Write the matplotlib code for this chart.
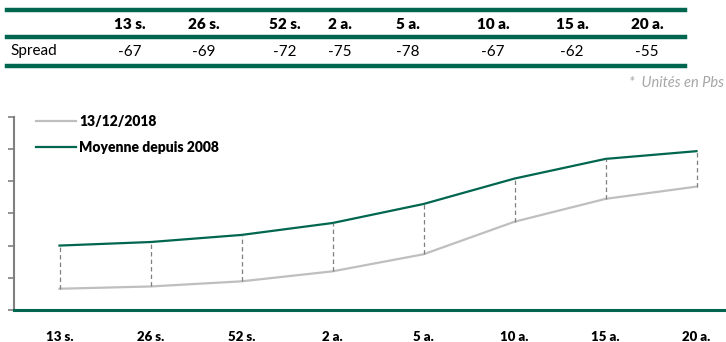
import matplotlib.pyplot as plt
from matplotlib.lines import Line2D

plt.rcParams['font.family'] = ['Lato', 'DejaVu Sans']

maturites = ['13 s.', '26 s.', '52 s.', '2 a.', '5 a.', '10 a.', '15 a.', '20 a.']
spread = [-67, -69, -72, -75, -78, -67, -62, -55]
moyenne = [100, 105.5, 116.5, 135, 164.5, 204, 234.5, 246.5]
courant = [m + s for m, s in zip(moyenne, spread)]

vert = '#00664F'
gris = '#BFBFBF'

W, H = 726, 342
fig = plt.figure(figsize=(W / 100, H / 100), dpi=100)

def fx(px):
    return px / W

def fy(py):
    return 1 - py / H

# tableau des spreads en haut
for yl in [10.3, 37, 66]:
    fig.add_artist(Line2D([fx(7), fx(685)], [fy(yl), fy(yl)], color=vert, lw=3.2))
cols = [130, 204, 285, 340, 408, 493, 572, 647]
for xc, lab, s in zip(cols, maturites, spread):
    fig.text(fx(xc), fy(24.5), lab, ha='center', va='center', fontsize=11, fontweight='heavy')
    fig.text(fx(xc), fy(51.5), str(s), ha='center', va='center', fontsize=11)
fig.text(fx(10), fy(51.5), 'Spread', ha='left', va='center', fontsize=11)
fig.text(fx(724), fy(83), '*  Unités en Pbs', ha='right', va='center', fontsize=10.5,
         style='italic', color='#A6A6A6')

# graphique des courbes
ax = fig.add_axes([fx(14), fy(310), 1 - fx(14), (310 - 116.7) / H])
x = range(len(maturites))
ax.plot(x, courant, color=gris, lw=1.6, label='13/12/2018')
ax.plot(x, moyenne, color=vert, lw=1.6, label='Moyenne depuis 2008')
ax.vlines(x, courant, moyenne, colors='#7F7F7F', linestyles=(0, (3.5, 2.5)), lw=0.9)

ax.set_xlim(-0.5, -0.5 + (W - 14) / 91)
ax.set_ylim(0, 300)
ax.set_yticks(range(0, 301, 50))
ax.set_yticklabels([])
ax.set_xticks(list(x))
ax.set_xticklabels(maturites, fontsize=9.5, fontweight='heavy')
ax.tick_params(axis='x', length=0, pad=15)
ax.tick_params(axis='y', direction='out', length=4, width=1.2, color='#808080')
for s in ['top', 'right']:
    ax.spines[s].set_visible(False)
ax.spines['left'].set_color('#808080')
ax.spines['left'].set_linewidth(1.5)
ax.spines['bottom'].set_color(vert)
ax.spines['bottom'].set_linewidth(2.2)
ax.spines['bottom'].set_zorder(5)

leg = ax.legend(loc='upper left', bbox_to_anchor=(fx(30), fy(109)),
                bbox_transform=fig.transFigure, frameon=False,
                prop={'weight': 'heavy', 'size': 10}, handlelength=2.9,
                handletextpad=0.25, labelspacing=0.95, borderaxespad=0)

fig.savefig('out.png', dpi=100)
